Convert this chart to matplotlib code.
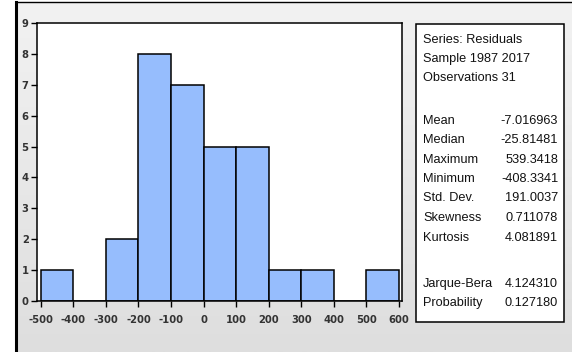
import matplotlib
matplotlib.use("Agg")
import matplotlib.pyplot as plt
import numpy as np
from matplotlib.patches import Rectangle

# Data
bin_edges = [-500, -400, -300, -200, -100, 0, 100, 200, 300, 400, 500, 600]
counts = [1, 0, 2, 8, 7, 5, 5, 1, 1, 0, 1]
x_ticks = [-500, -400, -300, -200, -100, 0, 100, 200, 300, 400, 500, 600]
y_ticks = [0, 1, 2, 3, 4, 5, 6, 7, 8, 9]
header_lines = ["Series: Residuals", "Sample 1987 2017", "Observations 31"]
stat_names = ["Mean", "Median", "Maximum", "Minimum", "Std. Dev.", "Skewness", "Kurtosis"]
stat_values = ["-7.016963", "-25.81481", "539.3418", "-408.3341", "191.0037", "0.711078", "4.081891"]
test_names = ["Jarque-Bera", "Probability"]
test_values = ["4.124310", "0.127180"]

W, H = 572, 352
fig = plt.figure(figsize=(W / 100, H / 100), dpi=100)
fig.patch.set_facecolor("white")

def fx(px):
    return px / W

def fy(py):
    return 1 - py / H

# background panel with gradient
bg = fig.add_axes([fx(16), 0, 1 - fx(16), fy(2)])
grad = np.linspace(0, 1, 256).reshape(-1, 1)
bg.imshow(grad, aspect="auto", cmap=matplotlib.colors.LinearSegmentedColormap.from_list("g", ["#f2f2f2", "#dedede"]),
          extent=[0, 1, 0, 1], origin="upper")
bg.set_xlim(0, 1)
bg.set_ylim(0, 1)
bg.set_xticks([])
bg.set_yticks([])
bg.spines["right"].set_visible(False)
bg.spines["bottom"].set_visible(False)
bg.spines["left"].set_linewidth(2.2)
bg.spines["top"].set_linewidth(1.0)
bg.set_zorder(0)

# histogram axes
ax = fig.add_axes([fx(37), fy(301), fx(402) - fx(37), fy(23) - fy(301)])
ax.set_zorder(2)
ax.set_facecolor("white")
lefts = bin_edges[:-1]
widths = np.diff(bin_edges)
ax.bar(lefts, counts, width=widths, align="edge", color="#96bdfd", edgecolor="black", linewidth=1.1)
ax.set_xlim(-512, 610)
ax.set_ylim(0, 9)
ax.set_xticks(x_ticks)
ax.set_yticks(y_ticks)
ax.tick_params(direction="out", length=4, width=1.0)
ax.tick_params(axis="x", pad=6)
ax.tick_params(axis="y", pad=2)
for sp in ax.spines.values():
    sp.set_linewidth(1.1)
tick_font = dict(family=["Liberation Sans Narrow", "DejaVu Sans Condensed", "DejaVu Sans"], size=7.2, weight="bold")
ax.set_xticklabels([str(v) for v in x_ticks], **tick_font, color="#333333")
ax.set_yticklabels([str(v) for v in y_ticks], **tick_font, color="#333333")

# stats box
box = Rectangle((fx(416), fy(322)), fx(564) - fx(416), fy(24) - fy(322), transform=fig.transFigure,
                facecolor="white", edgecolor="black", linewidth=1.1, zorder=3)
fig.patches.append(box)

txt = dict(family=["Liberation Sans", "DejaVu Sans"], size=9.2, color="#111111", zorder=4,
           transform=fig.transFigure, va="center")
ys_header = [40, 59, 78]
for t, y in zip(header_lines, ys_header):
    fig.text(fx(423), fy(y), t, ha="left", **txt)
ys_stats = [121, 140, 160, 179, 198, 218, 238]
for n, v, y in zip(stat_names, stat_values, ys_stats):
    fig.text(fx(423), fy(y), n, ha="left", **txt)
    fig.text(fx(558), fy(y), v, ha="right", **txt)
ys_tests = [284, 303]
for n, v, y in zip(test_names, test_values, ys_tests):
    fig.text(fx(423), fy(y), n, ha="left", **txt)
    fig.text(fx(558), fy(y), v, ha="right", **txt)

fig.savefig("out.png", dpi=100)
